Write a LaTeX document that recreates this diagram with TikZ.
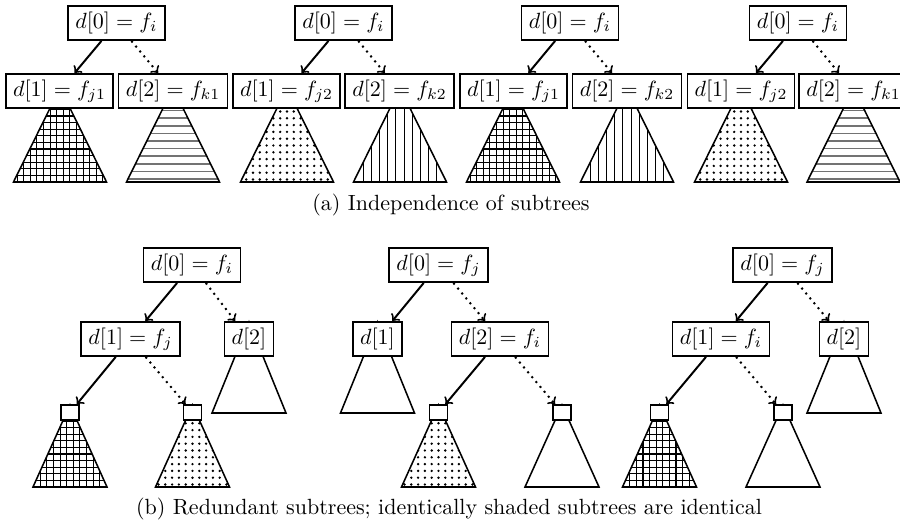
\documentclass[tikz,border=0pt]{standalone}
\usetikzlibrary{patterns}
% outline of a subtree triangle: apex x, apex y, base y, half base width
\newcommand\plaintri[4]{\draw[tri] (#1,#2) -- (#1-#4,#3) -- (#1+#4,#3) -- cycle;}
\newcommand\gridtri[4]{%
  \begin{scope}
    \clip (#1,#2) -- (#1-#4,#3) -- (#1+#4,#3) -- cycle;
    \foreach \k in {-9,...,8} \draw[gridline] (#1+\k*6.6+3.3,#2) -- (#1+\k*6.6+3.3,#3);
    \foreach \k in {0,...,16} \draw[gridline] (#1-#4,#3-\k*6.6) -- (#1+#4,#3-\k*6.6);
  \end{scope}
  \plaintri{#1}{#2}{#3}{#4}}
\newcommand\hlinetri[4]{%
  \begin{scope}
    \clip (#1,#2) -- (#1-#4,#3) -- (#1+#4,#3) -- cycle;
    \foreach \k in {0,...,14} \draw[hline] (#1-#4,#3-3-\k*7.6) -- (#1+#4,#3-3-\k*7.6);
  \end{scope}
  \plaintri{#1}{#2}{#3}{#4}}
\newcommand\vlinetri[4]{%
  \begin{scope}
    \clip (#1,#2) -- (#1-#4,#3) -- (#1+#4,#3) -- cycle;
    \foreach \k in {-8,...,7} \draw[vline] (#1+\k*8.2+4.1,#2) -- (#1+\k*8.2+4.1,#3);
  \end{scope}
  \plaintri{#1}{#2}{#3}{#4}}
\newcommand\dottri[4]{%
  \begin{scope}
    \clip (#1,#2) -- (#1-#4,#3) -- (#1+#4,#3) -- cycle;
    \foreach \i in {-8,...,8}
      \foreach \k in {0,...,15}
        \fill (#1+\i*6.8,#3-2.5-\k*6.8) circle (0.6pt);
  \end{scope}
  \plaintri{#1}{#2}{#3}{#4}}
\begin{document}
\begin{tikzpicture}[x=0.4545pt,y=-0.4545pt,
  box/.style={draw,line width=0.7pt,fill=white,inner xsep=3.3pt,inner ysep=2.8pt,text height=7.5pt,text depth=2.5pt},
  leaf/.style={draw,line width=0.7pt,fill=white,minimum width=8.2pt,minimum height=6.8pt,inner sep=0pt},
  tri/.style={draw,line width=0.7pt},
  gridline/.style={line width=0.5pt},
  hline/.style={line width=0.8pt,black!55},
  vline/.style={line width=0.45pt},
  yes/.style={->,line width=0.9pt},
  no/.style={->,line width=0.9pt,dotted},
  captext/.style={inner sep=0pt}
]
\useasboundingbox (0,0) rectangle (900,523);

% ---------- (a) subtrees ----------
\gridtri{60}{88}{182}{46.5}
\hlinetri{173}{88}{182}{46.5}
\dottri{287}{88}{182}{46.5}
\vlinetri{400}{88}{182}{46.5}
\gridtri{513}{88}{182}{46.5}
\vlinetri{627}{88}{182}{46.5}
\dottri{741}{88}{182}{46.5}
\hlinetri{853.5}{88}{182}{46.5}

% ---------- (a) nodes ----------
\node[box] (a1r) at (116.5,23) {$d[0]=f_i$};
\node[box] (a1l) at (59.5,91) {$d[1]=f_{j1}$};
\node[box] (a1k) at (173,91) {$d[2]=f_{k1}$};
\node[box] (a2r) at (343.5,23) {$d[0]=f_i$};
\node[box] (a2l) at (286.5,91) {$d[1]=f_{j2}$};
\node[box] (a2k) at (399.5,91) {$d[2]=f_{k2}$};
\node[box] (a3r) at (570,23) {$d[0]=f_i$};
\node[box] (a3l) at (513.5,91) {$d[1]=f_{j1}$};
\node[box] (a3k) at (627,91) {$d[2]=f_{k2}$};
\node[box] (a4r) at (798,23) {$d[0]=f_i$};
\node[box] (a4l) at (741,91) {$d[1]=f_{j2}$};
\node[box] (a4k) at (853.5,91) {$d[2]=f_{k1}$};

\foreach \t in {1,2,3,4}{
  \draw[yes] (a\t r) -- (a\t l);
  \draw[no] (a\t r) -- (a\t k);
}
\node[captext] (capa) at (451,205) {(a) Independence of subtrees};

% ---------- (b) subtrees ----------
\plaintri{249}{322}{413}{37}
\gridtri{70}{405}{487}{37}
\dottri{192.5}{405}{487}{37}
\plaintri{377.5}{322}{413}{37}
\dottri{438.5}{405}{487}{37}
\plaintri{562}{405}{487}{37}
\plaintri{844}{322}{413}{37}
\gridtri{659.5}{405}{487}{37}
\plaintri{783}{405}{487}{37}

% ---------- (b) nodes ----------
\node[box] (b1r) at (192,265) {$d[0]=f_i$};
\node[box] (b1l) at (130.5,339) {$d[1]=f_j$};
\node[box] (b1k) at (249,339) {$d[2]$};
\node[leaf] (b1ll) at (70,412.5) {};
\node[leaf] (b1lk) at (192.5,412.5) {};
\draw[yes] (b1r) -- (b1l);
\draw[no] (b1r) -- (b1k);
\draw[yes] (b1l) -- (b1ll);
\draw[no] (b1l) -- (b1lk);

\node[box] (b2r) at (438.5,265) {$d[0]=f_j$};
\node[box] (b2l) at (377.5,339) {$d[1]$};
\node[box] (b2k) at (500,339) {$d[2]=f_i$};
\node[leaf] (b2kl) at (438.5,412.5) {};
\node[leaf] (b2kk) at (562,412.5) {};
\draw[yes] (b2r) -- (b2l);
\draw[no] (b2r) -- (b2k);
\draw[yes] (b2k) -- (b2kl);
\draw[no] (b2k) -- (b2kk);

\node[box] (b3r) at (782.5,265) {$d[0]=f_j$};
\node[box] (b3l) at (721,339) {$d[1]=f_i$};
\node[box] (b3k) at (844,339) {$d[2]$};
\node[leaf] (b3ll) at (659.5,412.5) {};
\node[leaf] (b3lk) at (783,412.5) {};
\draw[yes] (b3r) -- (b3l);
\draw[no] (b3r) -- (b3k);
\draw[yes] (b3l) -- (b3ll);
\draw[no] (b3l) -- (b3lk);

\node[captext] (capb) at (449,509) {(b) Redundant subtrees; identically shaded subtrees are identical};
\end{tikzpicture}
\end{document}
